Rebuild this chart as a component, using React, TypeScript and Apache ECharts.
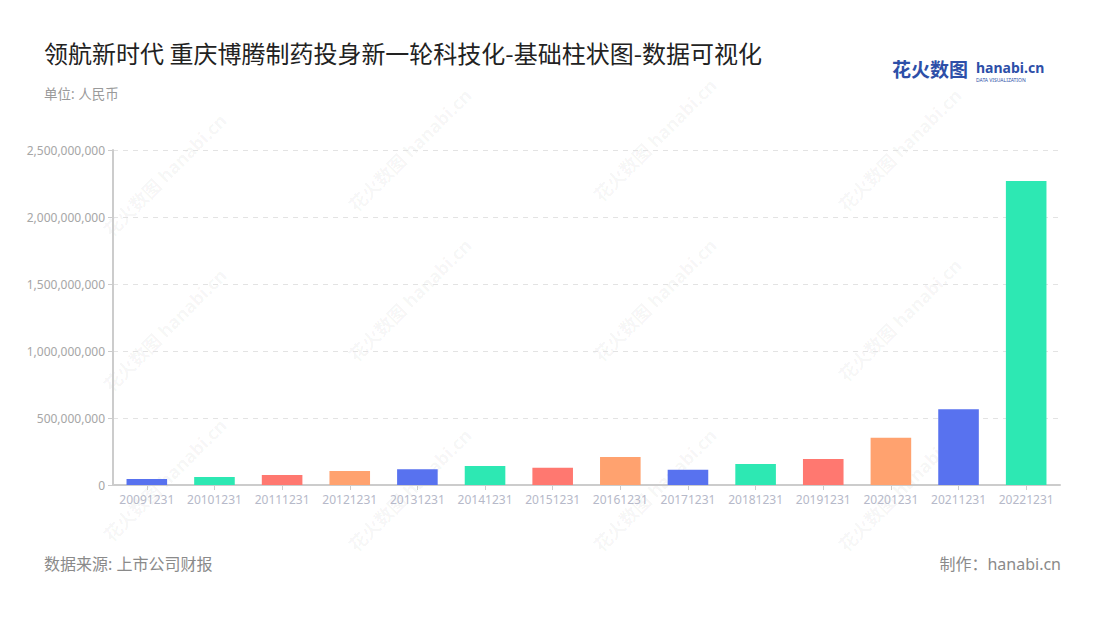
import React, { useEffect, useRef } from "react";
import * as echarts from "echarts";

const categories = ["20091231","20101231","20111231","20121231","20131231","20141231","20151231","20161231","20171231","20181231","20191231","20201231","20211231","20221231"];
const values = [45000000, 60000000, 75000000, 104000000, 117000000, 142000000, 129000000, 209000000, 114000000, 157000000, 194000000, 353000000, 565000000, 2268000000];
const palette = ["#5872EF", "#2DE8B3", "#FF7870", "#FFA26F"];
const titleText = "领航新时代 重庆博腾制药投身新一轮科技化-基础柱状图-数据可视化";
const unitText = "单位: 人民币";
const sourceText = "数据来源: 上市公司财报";
const makerText = "制作：hanabi.cn";
const watermarkPos = [
  [165, 175], [410, 150], [655, 140], [900, 150],
  [165, 330], [410, 300], [655, 300], [900, 320],
  [165, 480], [410, 490], [655, 490], [900, 490],
];

const FONT = "'Noto Sans', 'Noto Sans CJK SC', sans-serif";

export default function App() {
  const ref = useRef<HTMLDivElement>(null);
  useEffect(() => {
    if (!ref.current) return;
    const chart = echarts.init(ref.current, null, { renderer: "svg" });
    const watermarks = watermarkPos.map(([x, y]) => ({
      type: "text",
      x,
      y,
      rotation: Math.PI / 4,
      z: 0,
      silent: true,
      style: {
        text: "花火数图 hanabi.cn",
        fill: "rgba(0,0,0,0.045)",
        font: `bold 18px ${FONT}`,
        textAlign: "center",
        textVerticalAlign: "middle",
      },
    }));
    chart.setOption({
      animation: false,
      textStyle: { fontFamily: FONT },
      graphic: [
        ...watermarks,
        {
          type: "text", left: 44, top: 40, z: 10,
          style: { text: titleText, fill: "#222222", font: `24px 'Noto Sans CJK SC', ${FONT}` },
        },
        {
          type: "text", left: 44, top: 87, z: 10,
          style: { text: unitText, fill: "#9a9a9a", font: `13.5px ${FONT}` },
        },
        {
          type: "text", left: 44, top: 556, z: 10,
          style: { text: sourceText, fill: "#8a8a8a", font: `16px ${FONT}` },
        },
        {
          type: "text", right: 39, top: 556, z: 10,
          style: { text: makerText, fill: "#8a8a8a", font: `16px ${FONT}` },
        },
        {
          type: "text", left: 892, top: 60, z: 10,
          style: { text: "花火数图", fill: "#2D4FA8", font: `bold 19px ${FONT}` },
        },
        {
          type: "text", left: 976, top: 60, z: 10,
          style: { text: "hanabi.cn", fill: "#2D4FA8", font: `bold 14px ${FONT}` },
        },
        {
          type: "text", left: 976, top: 77, z: 10,
          style: { text: "DATA VISUALIZATION", fill: "#2D4FA8", font: `5px ${FONT}` },
        },
      ],
      grid: { left: 113, right: 40, top: 150, bottom: 135, containLabel: false },
      xAxis: {
        type: "category",
        data: categories,
        axisLine: { show: true, lineStyle: { color: "#cccccc", width: 2 } },
        axisTick: { show: true, alignWithLabel: true, length: 5, lineStyle: { color: "#cccccc" } },
        axisLabel: { color: "#b6b9c9", fontSize: 12, margin: 8, interval: 0, fontFamily: FONT },
      },
      yAxis: {
        type: "value",
        min: 0,
        max: 2500000000,
        interval: 500000000,
        axisLine: { show: true, lineStyle: { color: "#cccccc", width: 2 } },
        axisTick: { show: true, length: 5, lineStyle: { color: "#cccccc" } },
        axisLabel: {
          color: "#a6a6a6",
          fontSize: 12,
          margin: 8,
          fontFamily: FONT,
          formatter: (v: number) => v.toLocaleString("en-US"),
        },
        splitLine: { show: true, lineStyle: { color: "#e3e3e3", type: [5, 5] } },
      },
      series: [
        {
          type: "bar",
          barWidth: "60%",
          data: values.map((v, i) => ({ value: v, itemStyle: { color: palette[i % palette.length] } })),
        },
      ],
    });
    return () => chart.dispose();
  }, []);
  return <div ref={ref} style={{ width: 1100, height: 620, margin: -8 }} />;
}
